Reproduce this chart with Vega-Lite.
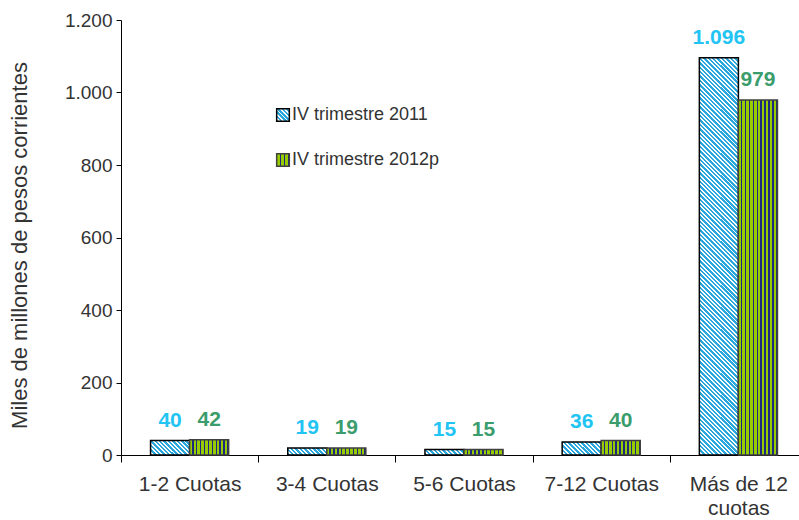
{
"$schema": "https://vega.github.io/schema/vega-lite/v6.json",
"width": 678,
"height": 435,
"autosize": {"type": "none"},
"padding": {"left": 121, "top": 20, "right": 0, "bottom": 65},
"config": {
  "view": {"stroke": null},
  "font": "Liberation Sans",
  "locale": {"number": {"decimal": ",", "thousands": ".", "grouping": [3], "currency": ["$", ""]}}
},
"params": [
  {"name": "hatchA", "value": [
{"offset":0,"color":"#2aa7dc"},{"offset":0.0055,"color":"#2aa7dc"},{"offset":0.0055,"color":"#ffffff"},{"offset":0.01,"color":"#ffffff"},
{"offset":0.01,"color":"#2aa7dc"},{"offset":0.0155,"color":"#2aa7dc"},{"offset":0.0155,"color":"#ffffff"},{"offset":0.02,"color":"#ffffff"},
{"offset":0.02,"color":"#2aa7dc"},{"offset":0.0255,"color":"#2aa7dc"},{"offset":0.0255,"color":"#ffffff"},{"offset":0.03,"color":"#ffffff"},
{"offset":0.03,"color":"#2aa7dc"},{"offset":0.0355,"color":"#2aa7dc"},{"offset":0.0355,"color":"#ffffff"},{"offset":0.04,"color":"#ffffff"},
{"offset":0.04,"color":"#2aa7dc"},{"offset":0.0455,"color":"#2aa7dc"},{"offset":0.0455,"color":"#ffffff"},{"offset":0.05,"color":"#ffffff"},
{"offset":0.05,"color":"#2aa7dc"},{"offset":0.0555,"color":"#2aa7dc"},{"offset":0.0555,"color":"#ffffff"},{"offset":0.06,"color":"#ffffff"},
{"offset":0.06,"color":"#2aa7dc"},{"offset":0.0655,"color":"#2aa7dc"},{"offset":0.0655,"color":"#ffffff"},{"offset":0.07,"color":"#ffffff"},
{"offset":0.07,"color":"#2aa7dc"},{"offset":0.0755,"color":"#2aa7dc"},{"offset":0.0755,"color":"#ffffff"},{"offset":0.08,"color":"#ffffff"},
{"offset":0.08,"color":"#2aa7dc"},{"offset":0.0855,"color":"#2aa7dc"},{"offset":0.0855,"color":"#ffffff"},{"offset":0.09,"color":"#ffffff"},
{"offset":0.09,"color":"#2aa7dc"},{"offset":0.0955,"color":"#2aa7dc"},{"offset":0.0955,"color":"#ffffff"},{"offset":0.1,"color":"#ffffff"},
{"offset":0.1,"color":"#2aa7dc"},{"offset":0.1055,"color":"#2aa7dc"},{"offset":0.1055,"color":"#ffffff"},{"offset":0.11,"color":"#ffffff"},
{"offset":0.11,"color":"#2aa7dc"},{"offset":0.1155,"color":"#2aa7dc"},{"offset":0.1155,"color":"#ffffff"},{"offset":0.12,"color":"#ffffff"},
{"offset":0.12,"color":"#2aa7dc"},{"offset":0.1255,"color":"#2aa7dc"},{"offset":0.1255,"color":"#ffffff"},{"offset":0.13,"color":"#ffffff"},
{"offset":0.13,"color":"#2aa7dc"},{"offset":0.1355,"color":"#2aa7dc"},{"offset":0.1355,"color":"#ffffff"},{"offset":0.14,"color":"#ffffff"},
{"offset":0.14,"color":"#2aa7dc"},{"offset":0.1455,"color":"#2aa7dc"},{"offset":0.1455,"color":"#ffffff"},{"offset":0.15,"color":"#ffffff"},
{"offset":0.15,"color":"#2aa7dc"},{"offset":0.1555,"color":"#2aa7dc"},{"offset":0.1555,"color":"#ffffff"},{"offset":0.16,"color":"#ffffff"},
{"offset":0.16,"color":"#2aa7dc"},{"offset":0.1655,"color":"#2aa7dc"},{"offset":0.1655,"color":"#ffffff"},{"offset":0.17,"color":"#ffffff"},
{"offset":0.17,"color":"#2aa7dc"},{"offset":0.1755,"color":"#2aa7dc"},{"offset":0.1755,"color":"#ffffff"},{"offset":0.18,"color":"#ffffff"},
{"offset":0.18,"color":"#2aa7dc"},{"offset":0.1855,"color":"#2aa7dc"},{"offset":0.1855,"color":"#ffffff"},{"offset":0.19,"color":"#ffffff"},
{"offset":0.19,"color":"#2aa7dc"},{"offset":0.1955,"color":"#2aa7dc"},{"offset":0.1955,"color":"#ffffff"},{"offset":0.2,"color":"#ffffff"},
{"offset":0.2,"color":"#2aa7dc"},{"offset":0.2055,"color":"#2aa7dc"},{"offset":0.2055,"color":"#ffffff"},{"offset":0.21,"color":"#ffffff"},
{"offset":0.21,"color":"#2aa7dc"},{"offset":0.2155,"color":"#2aa7dc"},{"offset":0.2155,"color":"#ffffff"},{"offset":0.22,"color":"#ffffff"},
{"offset":0.22,"color":"#2aa7dc"},{"offset":0.2255,"color":"#2aa7dc"},{"offset":0.2255,"color":"#ffffff"},{"offset":0.23,"color":"#ffffff"},
{"offset":0.23,"color":"#2aa7dc"},{"offset":0.2355,"color":"#2aa7dc"},{"offset":0.2355,"color":"#ffffff"},{"offset":0.24,"color":"#ffffff"},
{"offset":0.24,"color":"#2aa7dc"},{"offset":0.2455,"color":"#2aa7dc"},{"offset":0.2455,"color":"#ffffff"},{"offset":0.25,"color":"#ffffff"},
{"offset":0.25,"color":"#2aa7dc"},{"offset":0.2555,"color":"#2aa7dc"},{"offset":0.2555,"color":"#ffffff"},{"offset":0.26,"color":"#ffffff"},
{"offset":0.26,"color":"#2aa7dc"},{"offset":0.2655,"color":"#2aa7dc"},{"offset":0.2655,"color":"#ffffff"},{"offset":0.27,"color":"#ffffff"},
{"offset":0.27,"color":"#2aa7dc"},{"offset":0.2755,"color":"#2aa7dc"},{"offset":0.2755,"color":"#ffffff"},{"offset":0.28,"color":"#ffffff"},
{"offset":0.28,"color":"#2aa7dc"},{"offset":0.2855,"color":"#2aa7dc"},{"offset":0.2855,"color":"#ffffff"},{"offset":0.29,"color":"#ffffff"},
{"offset":0.29,"color":"#2aa7dc"},{"offset":0.2955,"color":"#2aa7dc"},{"offset":0.2955,"color":"#ffffff"},{"offset":0.3,"color":"#ffffff"},
{"offset":0.3,"color":"#2aa7dc"},{"offset":0.3055,"color":"#2aa7dc"},{"offset":0.3055,"color":"#ffffff"},{"offset":0.31,"color":"#ffffff"},
{"offset":0.31,"color":"#2aa7dc"},{"offset":0.3155,"color":"#2aa7dc"},{"offset":0.3155,"color":"#ffffff"},{"offset":0.32,"color":"#ffffff"},
{"offset":0.32,"color":"#2aa7dc"},{"offset":0.3255,"color":"#2aa7dc"},{"offset":0.3255,"color":"#ffffff"},{"offset":0.33,"color":"#ffffff"},
{"offset":0.33,"color":"#2aa7dc"},{"offset":0.3355,"color":"#2aa7dc"},{"offset":0.3355,"color":"#ffffff"},{"offset":0.34,"color":"#ffffff"},
{"offset":0.34,"color":"#2aa7dc"},{"offset":0.3455,"color":"#2aa7dc"},{"offset":0.3455,"color":"#ffffff"},{"offset":0.35,"color":"#ffffff"},
{"offset":0.35,"color":"#2aa7dc"},{"offset":0.3555,"color":"#2aa7dc"},{"offset":0.3555,"color":"#ffffff"},{"offset":0.36,"color":"#ffffff"},
{"offset":0.36,"color":"#2aa7dc"},{"offset":0.3655,"color":"#2aa7dc"},{"offset":0.3655,"color":"#ffffff"},{"offset":0.37,"color":"#ffffff"},
{"offset":0.37,"color":"#2aa7dc"},{"offset":0.3755,"color":"#2aa7dc"},{"offset":0.3755,"color":"#ffffff"},{"offset":0.38,"color":"#ffffff"},
{"offset":0.38,"color":"#2aa7dc"},{"offset":0.3855,"color":"#2aa7dc"},{"offset":0.3855,"color":"#ffffff"},{"offset":0.39,"color":"#ffffff"},
{"offset":0.39,"color":"#2aa7dc"},{"offset":0.3955,"color":"#2aa7dc"},{"offset":0.3955,"color":"#ffffff"},{"offset":0.4,"color":"#ffffff"},
{"offset":0.4,"color":"#2aa7dc"},{"offset":0.4055,"color":"#2aa7dc"},{"offset":0.4055,"color":"#ffffff"},{"offset":0.41,"color":"#ffffff"},
{"offset":0.41,"color":"#2aa7dc"},{"offset":0.4155,"color":"#2aa7dc"},{"offset":0.4155,"color":"#ffffff"},{"offset":0.42,"color":"#ffffff"},
{"offset":0.42,"color":"#2aa7dc"},{"offset":0.4255,"color":"#2aa7dc"},{"offset":0.4255,"color":"#ffffff"},{"offset":0.43,"color":"#ffffff"},
{"offset":0.43,"color":"#2aa7dc"},{"offset":0.4355,"color":"#2aa7dc"},{"offset":0.4355,"color":"#ffffff"},{"offset":0.44,"color":"#ffffff"},
{"offset":0.44,"color":"#2aa7dc"},{"offset":0.4455,"color":"#2aa7dc"},{"offset":0.4455,"color":"#ffffff"},{"offset":0.45,"color":"#ffffff"},
{"offset":0.45,"color":"#2aa7dc"},{"offset":0.4555,"color":"#2aa7dc"},{"offset":0.4555,"color":"#ffffff"},{"offset":0.46,"color":"#ffffff"},
{"offset":0.46,"color":"#2aa7dc"},{"offset":0.4655,"color":"#2aa7dc"},{"offset":0.4655,"color":"#ffffff"},{"offset":0.47,"color":"#ffffff"},
{"offset":0.47,"color":"#2aa7dc"},{"offset":0.4755,"color":"#2aa7dc"},{"offset":0.4755,"color":"#ffffff"},{"offset":0.48,"color":"#ffffff"},
{"offset":0.48,"color":"#2aa7dc"},{"offset":0.4855,"color":"#2aa7dc"},{"offset":0.4855,"color":"#ffffff"},{"offset":0.49,"color":"#ffffff"},
{"offset":0.49,"color":"#2aa7dc"},{"offset":0.4955,"color":"#2aa7dc"},{"offset":0.4955,"color":"#ffffff"},{"offset":0.5,"color":"#ffffff"},
{"offset":0.5,"color":"#2aa7dc"},{"offset":0.5055,"color":"#2aa7dc"},{"offset":0.5055,"color":"#ffffff"},{"offset":0.51,"color":"#ffffff"},
{"offset":0.51,"color":"#2aa7dc"},{"offset":0.5155,"color":"#2aa7dc"},{"offset":0.5155,"color":"#ffffff"},{"offset":0.52,"color":"#ffffff"},
{"offset":0.52,"color":"#2aa7dc"},{"offset":0.5255,"color":"#2aa7dc"},{"offset":0.5255,"color":"#ffffff"},{"offset":0.53,"color":"#ffffff"},
{"offset":0.53,"color":"#2aa7dc"},{"offset":0.5355,"color":"#2aa7dc"},{"offset":0.5355,"color":"#ffffff"},{"offset":0.54,"color":"#ffffff"},
{"offset":0.54,"color":"#2aa7dc"},{"offset":0.5455,"color":"#2aa7dc"},{"offset":0.5455,"color":"#ffffff"},{"offset":0.55,"color":"#ffffff"},
{"offset":0.55,"color":"#2aa7dc"},{"offset":0.5555,"color":"#2aa7dc"},{"offset":0.5555,"color":"#ffffff"},{"offset":0.56,"color":"#ffffff"},
{"offset":0.56,"color":"#2aa7dc"},{"offset":0.5655,"color":"#2aa7dc"},{"offset":0.5655,"color":"#ffffff"},{"offset":0.57,"color":"#ffffff"},
{"offset":0.57,"color":"#2aa7dc"},{"offset":0.5755,"color":"#2aa7dc"},{"offset":0.5755,"color":"#ffffff"},{"offset":0.58,"color":"#ffffff"},
{"offset":0.58,"color":"#2aa7dc"},{"offset":0.5855,"color":"#2aa7dc"},{"offset":0.5855,"color":"#ffffff"},{"offset":0.59,"color":"#ffffff"},
{"offset":0.59,"color":"#2aa7dc"},{"offset":0.5955,"color":"#2aa7dc"},{"offset":0.5955,"color":"#ffffff"},{"offset":0.6,"color":"#ffffff"},
{"offset":0.6,"color":"#2aa7dc"},{"offset":0.6055,"color":"#2aa7dc"},{"offset":0.6055,"color":"#ffffff"},{"offset":0.61,"color":"#ffffff"},
{"offset":0.61,"color":"#2aa7dc"},{"offset":0.6155,"color":"#2aa7dc"},{"offset":0.6155,"color":"#ffffff"},{"offset":0.62,"color":"#ffffff"},
{"offset":0.62,"color":"#2aa7dc"},{"offset":0.6255,"color":"#2aa7dc"},{"offset":0.6255,"color":"#ffffff"},{"offset":0.63,"color":"#ffffff"},
{"offset":0.63,"color":"#2aa7dc"},{"offset":0.6355,"color":"#2aa7dc"},{"offset":0.6355,"color":"#ffffff"},{"offset":0.64,"color":"#ffffff"},
{"offset":0.64,"color":"#2aa7dc"},{"offset":0.6455,"color":"#2aa7dc"},{"offset":0.6455,"color":"#ffffff"},{"offset":0.65,"color":"#ffffff"},
{"offset":0.65,"color":"#2aa7dc"},{"offset":0.6555,"color":"#2aa7dc"},{"offset":0.6555,"color":"#ffffff"},{"offset":0.66,"color":"#ffffff"},
{"offset":0.66,"color":"#2aa7dc"},{"offset":0.6655,"color":"#2aa7dc"},{"offset":0.6655,"color":"#ffffff"},{"offset":0.67,"color":"#ffffff"},
{"offset":0.67,"color":"#2aa7dc"},{"offset":0.6755,"color":"#2aa7dc"},{"offset":0.6755,"color":"#ffffff"},{"offset":0.68,"color":"#ffffff"},
{"offset":0.68,"color":"#2aa7dc"},{"offset":0.6855,"color":"#2aa7dc"},{"offset":0.6855,"color":"#ffffff"},{"offset":0.69,"color":"#ffffff"},
{"offset":0.69,"color":"#2aa7dc"},{"offset":0.6955,"color":"#2aa7dc"},{"offset":0.6955,"color":"#ffffff"},{"offset":0.7,"color":"#ffffff"},
{"offset":0.7,"color":"#2aa7dc"},{"offset":0.7055,"color":"#2aa7dc"},{"offset":0.7055,"color":"#ffffff"},{"offset":0.71,"color":"#ffffff"},
{"offset":0.71,"color":"#2aa7dc"},{"offset":0.7155,"color":"#2aa7dc"},{"offset":0.7155,"color":"#ffffff"},{"offset":0.72,"color":"#ffffff"},
{"offset":0.72,"color":"#2aa7dc"},{"offset":0.7255,"color":"#2aa7dc"},{"offset":0.7255,"color":"#ffffff"},{"offset":0.73,"color":"#ffffff"},
{"offset":0.73,"color":"#2aa7dc"},{"offset":0.7355,"color":"#2aa7dc"},{"offset":0.7355,"color":"#ffffff"},{"offset":0.74,"color":"#ffffff"},
{"offset":0.74,"color":"#2aa7dc"},{"offset":0.7455,"color":"#2aa7dc"},{"offset":0.7455,"color":"#ffffff"},{"offset":0.75,"color":"#ffffff"},
{"offset":0.75,"color":"#2aa7dc"},{"offset":0.7555,"color":"#2aa7dc"},{"offset":0.7555,"color":"#ffffff"},{"offset":0.76,"color":"#ffffff"},
{"offset":0.76,"color":"#2aa7dc"},{"offset":0.7655,"color":"#2aa7dc"},{"offset":0.7655,"color":"#ffffff"},{"offset":0.77,"color":"#ffffff"},
{"offset":0.77,"color":"#2aa7dc"},{"offset":0.7755,"color":"#2aa7dc"},{"offset":0.7755,"color":"#ffffff"},{"offset":0.78,"color":"#ffffff"},
{"offset":0.78,"color":"#2aa7dc"},{"offset":0.7855,"color":"#2aa7dc"},{"offset":0.7855,"color":"#ffffff"},{"offset":0.79,"color":"#ffffff"},
{"offset":0.79,"color":"#2aa7dc"},{"offset":0.7955,"color":"#2aa7dc"},{"offset":0.7955,"color":"#ffffff"},{"offset":0.8,"color":"#ffffff"},
{"offset":0.8,"color":"#2aa7dc"},{"offset":0.8055,"color":"#2aa7dc"},{"offset":0.8055,"color":"#ffffff"},{"offset":0.81,"color":"#ffffff"},
{"offset":0.81,"color":"#2aa7dc"},{"offset":0.8155,"color":"#2aa7dc"},{"offset":0.8155,"color":"#ffffff"},{"offset":0.82,"color":"#ffffff"},
{"offset":0.82,"color":"#2aa7dc"},{"offset":0.8255,"color":"#2aa7dc"},{"offset":0.8255,"color":"#ffffff"},{"offset":0.83,"color":"#ffffff"},
{"offset":0.83,"color":"#2aa7dc"},{"offset":0.8355,"color":"#2aa7dc"},{"offset":0.8355,"color":"#ffffff"},{"offset":0.84,"color":"#ffffff"},
{"offset":0.84,"color":"#2aa7dc"},{"offset":0.8455,"color":"#2aa7dc"},{"offset":0.8455,"color":"#ffffff"},{"offset":0.85,"color":"#ffffff"},
{"offset":0.85,"color":"#2aa7dc"},{"offset":0.8555,"color":"#2aa7dc"},{"offset":0.8555,"color":"#ffffff"},{"offset":0.86,"color":"#ffffff"},
{"offset":0.86,"color":"#2aa7dc"},{"offset":0.8655,"color":"#2aa7dc"},{"offset":0.8655,"color":"#ffffff"},{"offset":0.87,"color":"#ffffff"},
{"offset":0.87,"color":"#2aa7dc"},{"offset":0.8755,"color":"#2aa7dc"},{"offset":0.8755,"color":"#ffffff"},{"offset":0.88,"color":"#ffffff"},
{"offset":0.88,"color":"#2aa7dc"},{"offset":0.8855,"color":"#2aa7dc"},{"offset":0.8855,"color":"#ffffff"},{"offset":0.89,"color":"#ffffff"},
{"offset":0.89,"color":"#2aa7dc"},{"offset":0.8955,"color":"#2aa7dc"},{"offset":0.8955,"color":"#ffffff"},{"offset":0.9,"color":"#ffffff"},
{"offset":0.9,"color":"#2aa7dc"},{"offset":0.9055,"color":"#2aa7dc"},{"offset":0.9055,"color":"#ffffff"},{"offset":0.91,"color":"#ffffff"},
{"offset":0.91,"color":"#2aa7dc"},{"offset":0.9155,"color":"#2aa7dc"},{"offset":0.9155,"color":"#ffffff"},{"offset":0.92,"color":"#ffffff"},
{"offset":0.92,"color":"#2aa7dc"},{"offset":0.9255,"color":"#2aa7dc"},{"offset":0.9255,"color":"#ffffff"},{"offset":0.93,"color":"#ffffff"},
{"offset":0.93,"color":"#2aa7dc"},{"offset":0.9355,"color":"#2aa7dc"},{"offset":0.9355,"color":"#ffffff"},{"offset":0.94,"color":"#ffffff"},
{"offset":0.94,"color":"#2aa7dc"},{"offset":0.9455,"color":"#2aa7dc"},{"offset":0.9455,"color":"#ffffff"},{"offset":0.95,"color":"#ffffff"},
{"offset":0.95,"color":"#2aa7dc"},{"offset":0.9555,"color":"#2aa7dc"},{"offset":0.9555,"color":"#ffffff"},{"offset":0.96,"color":"#ffffff"},
{"offset":0.96,"color":"#2aa7dc"},{"offset":0.9655,"color":"#2aa7dc"},{"offset":0.9655,"color":"#ffffff"},{"offset":0.97,"color":"#ffffff"},
{"offset":0.97,"color":"#2aa7dc"},{"offset":0.9755,"color":"#2aa7dc"},{"offset":0.9755,"color":"#ffffff"},{"offset":0.98,"color":"#ffffff"},
{"offset":0.98,"color":"#2aa7dc"},{"offset":0.9855,"color":"#2aa7dc"},{"offset":0.9855,"color":"#ffffff"},{"offset":0.99,"color":"#ffffff"},
{"offset":0.99,"color":"#2aa7dc"},{"offset":0.9955,"color":"#2aa7dc"},{"offset":0.9955,"color":"#ffffff"},{"offset":1,"color":"#ffffff"}
  ]},
  {"name": "hatchB", "value": [
{"offset":0,"color":"#99cc00"},{"offset":0.065,"color":"#99cc00"},{"offset":0.065,"color":"#1b2a80"},{"offset":0.1,"color":"#1b2a80"},
{"offset":0.1,"color":"#99cc00"},{"offset":0.165,"color":"#99cc00"},{"offset":0.165,"color":"#1b2a80"},{"offset":0.2,"color":"#1b2a80"},
{"offset":0.2,"color":"#99cc00"},{"offset":0.265,"color":"#99cc00"},{"offset":0.265,"color":"#1b2a80"},{"offset":0.3,"color":"#1b2a80"},
{"offset":0.3,"color":"#99cc00"},{"offset":0.365,"color":"#99cc00"},{"offset":0.365,"color":"#1b2a80"},{"offset":0.4,"color":"#1b2a80"},
{"offset":0.4,"color":"#99cc00"},{"offset":0.465,"color":"#99cc00"},{"offset":0.465,"color":"#1b2a80"},{"offset":0.5,"color":"#1b2a80"},
{"offset":0.5,"color":"#99cc00"},{"offset":0.565,"color":"#99cc00"},{"offset":0.565,"color":"#1b2a80"},{"offset":0.6,"color":"#1b2a80"},
{"offset":0.6,"color":"#99cc00"},{"offset":0.665,"color":"#99cc00"},{"offset":0.665,"color":"#1b2a80"},{"offset":0.7,"color":"#1b2a80"},
{"offset":0.7,"color":"#99cc00"},{"offset":0.765,"color":"#99cc00"},{"offset":0.765,"color":"#1b2a80"},{"offset":0.8,"color":"#1b2a80"},
{"offset":0.8,"color":"#99cc00"},{"offset":0.865,"color":"#99cc00"},{"offset":0.865,"color":"#1b2a80"},{"offset":0.9,"color":"#1b2a80"},
{"offset":0.9,"color":"#99cc00"},{"offset":0.965,"color":"#99cc00"},{"offset":0.965,"color":"#1b2a80"},{"offset":1,"color":"#1b2a80"}
  ]},
  {"name": "legendA", "value": [
{"offset":0,"color":"#2aa7dc"},{"offset":0.09,"color":"#2aa7dc"},{"offset":0.09,"color":"#ffffff"},{"offset":0.167,"color":"#ffffff"},
{"offset":0.167,"color":"#2aa7dc"},{"offset":0.257,"color":"#2aa7dc"},{"offset":0.257,"color":"#ffffff"},{"offset":0.333,"color":"#ffffff"},
{"offset":0.333,"color":"#2aa7dc"},{"offset":0.423,"color":"#2aa7dc"},{"offset":0.423,"color":"#ffffff"},{"offset":0.5,"color":"#ffffff"},
{"offset":0.5,"color":"#2aa7dc"},{"offset":0.59,"color":"#2aa7dc"},{"offset":0.59,"color":"#ffffff"},{"offset":0.667,"color":"#ffffff"},
{"offset":0.667,"color":"#2aa7dc"},{"offset":0.757,"color":"#2aa7dc"},{"offset":0.757,"color":"#ffffff"},{"offset":0.833,"color":"#ffffff"},
{"offset":0.833,"color":"#2aa7dc"},{"offset":0.923,"color":"#2aa7dc"},{"offset":0.923,"color":"#ffffff"},{"offset":1,"color":"#ffffff"}
  ]},
  {"name": "legendB", "value": [
{"offset":0,"color":"#99cc00"},{"offset":0.23,"color":"#99cc00"},{"offset":0.23,"color":"#1b2a80"},{"offset":0.33,"color":"#1b2a80"},
{"offset":0.33,"color":"#99cc00"},{"offset":0.56,"color":"#99cc00"},{"offset":0.56,"color":"#1b2a80"},{"offset":0.66,"color":"#1b2a80"},
{"offset":0.66,"color":"#99cc00"},{"offset":0.9,"color":"#99cc00"},{"offset":0.9,"color":"#1b2a80"},{"offset":1,"color":"#1b2a80"}
  ]}
],
"data": {"values": [
  {"cat": "1-2 Cuotas", "series": "IV trimestre 2011", "value": 40},
  {"cat": "1-2 Cuotas", "series": "IV trimestre 2012p", "value": 42},
  {"cat": "3-4 Cuotas", "series": "IV trimestre 2011", "value": 19},
  {"cat": "3-4 Cuotas", "series": "IV trimestre 2012p", "value": 19},
  {"cat": "5-6 Cuotas", "series": "IV trimestre 2011", "value": 15},
  {"cat": "5-6 Cuotas", "series": "IV trimestre 2012p", "value": 15},
  {"cat": "7-12 Cuotas", "series": "IV trimestre 2011", "value": 36},
  {"cat": "7-12 Cuotas", "series": "IV trimestre 2012p", "value": 40},
  {"cat": "Más de 12 cuotas", "series": "IV trimestre 2011", "value": 1096},
  {"cat": "Más de 12 cuotas", "series": "IV trimestre 2012p", "value": 979}
]},
"encoding": {
  "x": {"field": "cat", "type": "nominal", "sort": null,
    "scale": {"range": [0, 686], "paddingInner": 0, "paddingOuter": 0},
    "axis": {"title": null, "tickBand": "extent", "labelAngle": 0, "labelFontSize": 21, "labelColor": "#333333",
      "labelPadding": 11, "tickSize": 7, "tickColor": "#000000", "domainColor": "#000000", "labelLineHeight": 24, "labelLimit": 0,
      "labelExpr": "datum.value === 'Más de 12 cuotas' ? ['Más de 12', 'cuotas'] : datum.label"}},
  "xOffset": {"field": "series", "type": "nominal", "sort": null, "scale": {"paddingInner": 0, "paddingOuter": 0.757}},
  "y": {"field": "value", "type": "quantitative", "stack": null,
    "scale": {"domain": [0, 1200]},
    "axis": {"title": "Miles de millones de pesos corrientes", "values": [0, 200, 400, 600, 800, 1000, 1200], "format": ",d",
      "grid": false, "labelFontSize": 19, "labelColor": "#333333", "titleFontSize": 22, "titleFontWeight": "normal", "titleColor": "#333333",
      "tickSize": 5, "labelPadding": 4, "titlePadding": 33, "titleY": 225, "tickColor": "#000000", "domainColor": "#000000"}}
},
"layer": [
  {"mark": {"type": "bar", "strokeWidth": 1.5,
     "fill": {"expr": "datum.series ? (datum.series === 'IV trimestre 2011' ? {gradient: 'linear', x1: 0, y1: 1, x2: 440*39/(1521+pow(datum.value*0.3625,2)), y2: 1-440*datum.value*0.3625/(1521+pow(datum.value*0.3625,2)), stops: hatchA} : {gradient: 'linear', x1: 0, y1: 0, x2: 1, y2: 0, stops: hatchB}) : (datum.value === 'IV trimestre 2011' ? {gradient: 'linear', x1: 0, y1: 1, x2: 1, y2: 0, stops: legendA} : {gradient: 'linear', x1: 0, y1: 0, x2: 1, y2: 0, stops: legendB})"}},
   "encoding": {"stroke": {"field": "series", "type": "nominal", "sort": null,
     "scale": {"domain": ["IV trimestre 2011", "IV trimestre 2012p"], "range": ["#000000", "#404040"]},
     "legend": {"title": null, "orient": "none", "legendX": 153, "legendY": 86, "symbolType": "square", "symbolSize": 160,
       "symbolStrokeWidth": 1.5, "labelFontSize": 18, "labelColor": "#333333", "rowPadding": 25, "labelOffset": 0, "padding": 0,
       "encode": {"symbols": {"update": {"stroke": {"value": "#000000"}}}}}}}},
  {"mark": {"type": "text", "fontWeight": "bold", "fontSize": 21, "baseline": "alphabetic", "dy": -14,
     "fill": {"expr": "datum.series === 'IV trimestre 2011' ? '#22c4f4' : '#3b9c6c'"}},
   "encoding": {"text": {"field": "value", "type": "quantitative", "format": ","}}}
]
}
